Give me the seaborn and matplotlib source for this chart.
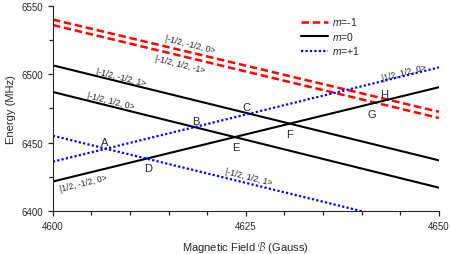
import numpy as np
import pandas as pd
import matplotlib
matplotlib.use('Agg')
import matplotlib.pyplot as plt
import seaborn as sns

# champ magnétique aux deux extrémités (Gauss)
field = [4600, 4650]

# énergies (MHz) de chaque état aux deux extrémités
states = ['|-1/2, -1/2, 0>', '|-1/2, 1/2, -1>',
          '|-1/2, -1/2, 1>', '|-1/2, 1/2, 0>', '|1/2, -1/2, 0>',
          '|1/2, 1/2, 0>', '|-1/2, 1/2, 1>']
m_values = [-1, -1, 0, 0, 0, 1, 1]
e_start = [6540.0, 6536.0, 6506.5, 6487.0, 6421.5, 6436.0, 6455.0]
e_end = [6472.5, 6468.0, 6437.0, 6417.0, 6490.5, 6505.0, 6386.0]

# positions des étiquettes d'états
state_lx = [4617.7, 4616.5, 4608.8, 4607.5, 4604.0, 4645.5, 4625.3]
state_ly = [6522.5, 6507.8, 6498.3, 6480.7, 6420.5, 6501.7, 6425.0]

# croisements
cross_names = ['A', 'B', 'C', 'D', 'E', 'F', 'G', 'H']
cross_x = [4606.7, 4618.5, 4625.1, 4612.3, 4623.7, 4630.6, 4641.3, 4642.9]
cross_y = [6450.5, 6465.9, 6476.1, 6431.5, 6446.9, 6456.4, 6471.0, 6485.6]

rows = []
for s, m, a, b in zip(states, m_values, e_start, e_end):
    rows.append({'state': s, 'm': m, 'B': field[0], 'E': a})
    rows.append({'state': s, 'm': m, 'B': field[1], 'E': b})
df = pd.DataFrame(rows)

sns.set_style('ticks')
plt.rcParams['font.family'] = ['Liberation Sans', 'DejaVu Sans']
plt.rcParams['mathtext.fontset'] = 'custom'
plt.rcParams['mathtext.it'] = 'Liberation Sans:italic'
plt.rcParams['mathtext.rm'] = 'Liberation Sans'

styles = {-1: dict(color='#ff0000', ls=(0, (3, 1.5)), lw=1.8, label='$m$=-1'),
          0: dict(color='black', ls='-', lw=1.5, label='$m$=0'),
          1: dict(color='#0000ff', ls=(0, (1, 1)), lw=1.6, label='$m$=+1')}

fig = plt.figure(figsize=(4.52, 2.55), dpi=100)
ax = fig.add_axes([0.117, 0.169, 0.854, 0.804])

seen = set()
for s in states:
    d = df[df['state'] == s]
    m = d['m'].iloc[0]
    st = styles[m]
    sns.lineplot(data=d, x='B', y='E', ax=ax, color=st['color'],
                 linestyle=st['ls'], linewidth=st['lw'],
                 label=st['label'] if m not in seen else None)
    seen.add(m)

# angle des étiquettes suivant la pente des droites
for s, x, y, a, b in zip(states, state_lx, state_ly, e_start, e_end):
    ang = -14 if b < a else 14
    ax.text(x, y, s, fontsize=6.2, rotation=ang, ha='center', va='center',
            rotation_mode='anchor')

for n, x, y in zip(cross_names, cross_x, cross_y):
    ax.text(x, y, n, fontsize=8, ha='center', va='center')

ax.set_xlim(4600, 4650)
ax.set_ylim(6400, 6550)
ax.set_xticks([4600, 4625, 4650])
ax.set_xticks(np.arange(4600, 4651, 5), minor=True)
ax.set_yticks([6400, 6450, 6500, 6550])
ax.set_yticks(np.arange(6400, 6551, 25), minor=True)
ax.tick_params(which='both', direction='out', labelsize=7, width=0.9)
ax.tick_params(which='major', length=3.5)
ax.tick_params(which='minor', length=3)
sns.despine(ax=ax)
ax.set_xlabel(r'Magnetic Field $\mathcal{B}$ (Gauss)', fontsize=8, labelpad=6)
ax.set_ylabel('Energy (MHz)', fontsize=8, labelpad=4)

leg = ax.legend(loc='upper right', bbox_to_anchor=(0.82, 1.0), frameon=False,
                fontsize=7.5, handlelength=2.6, labelspacing=0.25,
                handletextpad=0.4)

fig.savefig('out.png', dpi=100)
